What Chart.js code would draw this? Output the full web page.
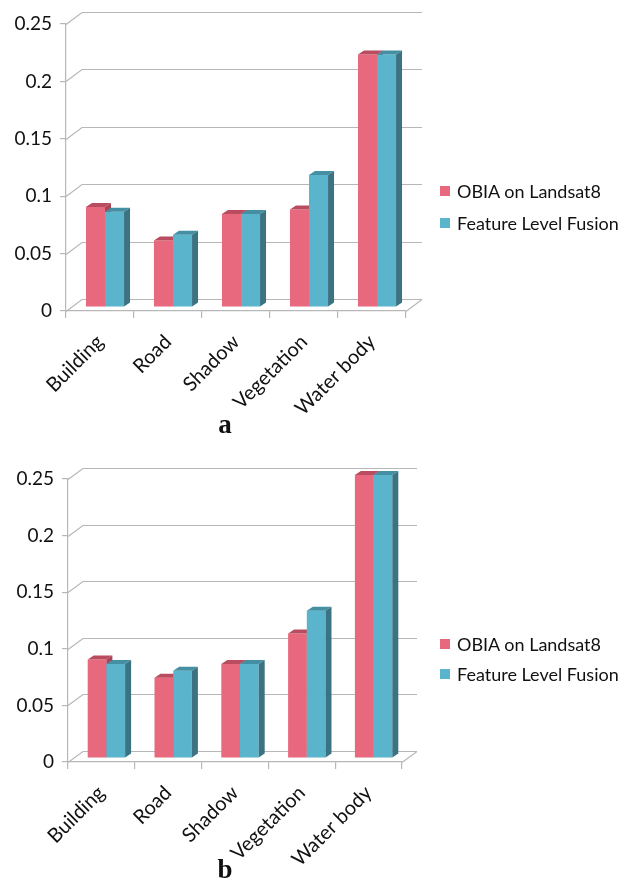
<!DOCTYPE html>
<html>
<head>
<meta charset="utf-8">
<script src="https://cdn.jsdelivr.net/npm/chart.js@4.4.1/dist/chart.umd.min.js"></script>
<style>
  html, body { margin: 0; padding: 0; background: #ffffff; }
  body { width: 644px; height: 878px; position: relative; overflow: hidden; font-family: Lato, "Open Sans", sans-serif; }
  .panel { position: absolute; left: 0; width: 644px; }
  .legend { position: absolute; left: 440px; font-size: 18px; color: #111; }
  .legend .row { position: absolute; left: 0; white-space: nowrap; display: flex; align-items: center; }
  .legend .sw { display: inline-block; width: 10px; height: 10px; margin-right: 7px; }
  .caption { position: absolute; left: 210px; width: 30px; text-align: center; font-family: "Liberation Serif", "DejaVu Serif", serif; font-weight: bold; font-size: 27px; color: #111; }
</style>
</head>
<body>

<div class="panel" style="top:0;height:440px"><canvas id="chartA" width="644" height="440"></canvas></div>
<div class="legend" style="top:180px">
  <div class="row" style="top:0"><span class="sw" style="background:#E8697E"></span>OBIA on Landsat8</div>
  <div class="row" style="top:32px"><span class="sw" style="background:#5AB4CC"></span>Feature Level Fusion</div>
</div>
<div class="caption" style="top:409px">a</div>

<div class="panel" style="top:440px;height:438px"><canvas id="chartB" width="644" height="438"></canvas></div>
<div class="legend" style="top:633px">
  <div class="row" style="top:0"><span class="sw" style="background:#E8697E"></span>OBIA on Landsat8</div>
  <div class="row" style="top:30px"><span class="sw" style="background:#5AB4CC"></span>Feature Level Fusion</div>
</div>
<div class="caption" style="top:854px">b</div>

<script>
// Land-cover classes on the category axis
const categories = ['Building', 'Road', 'Shadow', 'Vegetation', 'Water body'];

// Panel a
const obiaA   = [0.087, 0.058, 0.081, 0.085, 0.22];
const fusionA = [0.083, 0.063, 0.081, 0.115, 0.22];

// Panel b
const obiaB   = [0.087, 0.071, 0.083, 0.11, 0.25];
const fusionB = [0.083, 0.077, 0.083, 0.13, 0.25];

// Value axis
const yMin = 0;
const yMax = 0.25;
const yStep = 0.05;

const seriesNames = ['OBIA on Landsat8', 'Feature Level Fusion'];

// Front face, top face and side face shades of each series
const palette = [
  { front: '#E8697E', top: '#B94C5F', side: '#A84456' },
  { front: '#5AB4CC', top: '#448FA3', side: '#3C7383' }
];

const gridColor = '#B7B7B7';

// Depth effect: back wall offset and bar depth
function wallPlugin(depth) {
  return {
    id: 'wall',
    beforeDatasetsDraw(chart) {
      const { ctx, chartArea } = chart;
      const ys = chart.scales.y;
      const xs = chart.scales.x;
      ctx.save();
      ctx.strokeStyle = gridColor;
      ctx.lineWidth = 1.2;
      ys.ticks.forEach(t => {
        const yf = Math.round(ys.getPixelForValue(t.value)) + 0.5;
        ctx.beginPath();
        ctx.moveTo(chartArea.left, yf);
        ctx.lineTo(chartArea.left + depth.wx, yf - depth.wy);
        ctx.lineTo(chartArea.right + depth.wx, yf - depth.wy);
        ctx.stroke();
      });
      // right edge of the floor
      const y0 = Math.round(ys.getPixelForValue(yMin)) + 0.5;
      ctx.beginPath();
      ctx.moveTo(xs.right, y0);
      ctx.lineTo(xs.right + depth.wx, y0 - depth.wy);
      ctx.stroke();
      ctx.restore();
    },
    beforeDatasetDraw() {
      // bars are painted below, series by series, with their faces
      return false;
    },
    afterDatasetsDraw(chart) {
      const { ctx } = chart;
      ctx.save();
      ctx.translate(depth.bx, -depth.by);
      chart.data.datasets.forEach((ds, i) => {
        const meta = chart.getDatasetMeta(i);
        const col = palette[i];
        meta.data.forEach(bar => {
          const p = bar.getProps(['x', 'y', 'base', 'width'], true);
          const l = p.x - p.width / 2;
          const r = p.x + p.width / 2;
          bar.draw(ctx);
          // top face
          ctx.fillStyle = col.top;
          ctx.beginPath();
          ctx.moveTo(l, p.y);
          ctx.lineTo(r, p.y);
          ctx.lineTo(r + depth.dx, p.y - depth.dy);
          ctx.lineTo(l + depth.dx, p.y - depth.dy);
          ctx.closePath();
          ctx.fill();
          // side face
          ctx.fillStyle = col.side;
          ctx.beginPath();
          ctx.moveTo(r, p.y);
          ctx.lineTo(r + depth.dx, p.y - depth.dy);
          ctx.lineTo(r + depth.dx, p.base - depth.dy);
          ctx.lineTo(r, p.base);
          ctx.closePath();
          ctx.fill();
        });
      });
      ctx.restore();
    }
  };
}

function makeChart(id, obia, fusion, g) {
  const el = document.getElementById(id);
  return new Chart(el, {
    type: 'bar',
    data: {
      labels: categories,
      datasets: [obia, fusion].map((vals, i) => ({
        label: seriesNames[i],
        data: vals,
        backgroundColor: palette[i].front,
        borderWidth: 0,
        categoryPercentage: 0.56,
        barPercentage: 1.0
      }))
    },
    options: {
      responsive: false,
      devicePixelRatio: 1,
      animation: false,
      events: [],
      layout: { padding: { left: 0, top: g.top, right: g.right, bottom: 0 } },
      plugins: { legend: { display: false }, tooltip: { enabled: false } },
      scales: {
        x: {
          offset: true,
          grid: { offset: true, drawOnChartArea: false, color: gridColor, tickLength: 7, lineWidth: 1.2 },
          border: { display: true, color: gridColor, width: 1.2 },
          ticks: {
            autoSkip: false, minRotation: 45, maxRotation: 45, padding: 12,
            color: '#111', font: { family: 'Lato', size: 20 }
          },
          afterFit(scale) { scale.height = g.xHeight; }
        },
        y: {
          min: yMin, max: yMax,
          grid: { drawOnChartArea: false, color: gridColor, tickLength: 6, lineWidth: 1.2 },
          border: { display: true, color: gridColor, width: 1.2 },
          ticks: {
            stepSize: yStep, padding: 8, color: '#111',
            font: { family: 'Lato', size: 19 },
            callback: v => String(+v.toFixed(2))
          },
          afterFit(scale) { scale.width = g.yWidth; }
        }
      }
    },
    plugins: [wallPlugin(g.depth)]
  });
}

makeChart('chartA', obiaA, fusionA, {
  top: 24, right: 238, yWidth: 66, xHeight: 129,
  depth: { wx: 16, wy: 12, bx: 5, by: 4, dx: 6, dy: 4 }
});

makeChart('chartB', obiaB, fusionB, {
  top: 39, right: 242, yWidth: 68, xHeight: 116,
  depth: { wx: 15, wy: 11, bx: 5, by: 4, dx: 6, dy: 4 }
});
</script>
</body>
</html>
